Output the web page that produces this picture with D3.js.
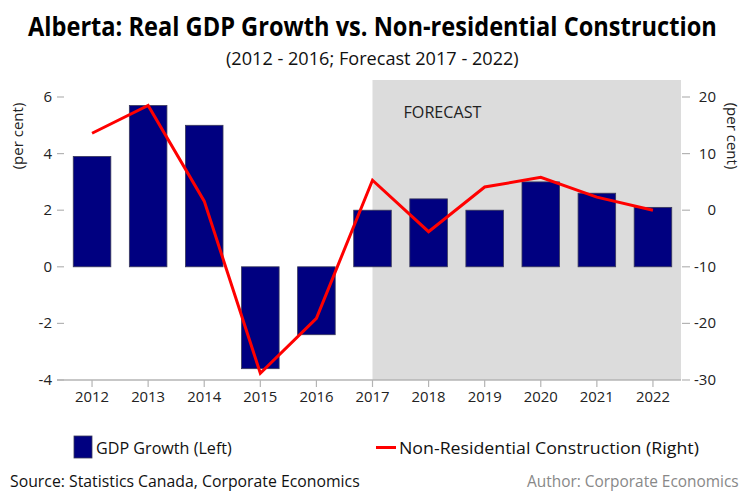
<!DOCTYPE html>
<html>
<head>
<meta charset="utf-8">
<script src="https://cdn.jsdelivr.net/npm/d3@7"></script>
<style>
  html, body { margin: 0; padding: 0; background: #fff; }
  svg { display: block; font-family: "Open Sans", "Noto Sans", sans-serif; }
</style>
</head>
<body>
<svg id="chart" width="742" height="491"></svg>
<script>
// Years shown on the category axis
const years = ["2012","2013","2014","2015","2016","2017","2018","2019","2020","2021","2022"];
// Real GDP growth, per cent (left axis)
const gdpGrowth = [3.9, 5.7, 5.0, -3.6, -2.4, 2.0, 2.4, 2.0, 3.0, 2.6, 2.1];
// Non-residential construction growth, per cent (right axis)
const nonResConstruction = [13.6, 18.5, 1.6, -28.8, -19.1, 5.3, -3.8, 4.1, 5.8, 2.3, 0.0];
// Axis tick values
const leftTicks = [-4, -2, 0, 2, 4, 6];
const rightTicks = [-30, -20, -10, 0, 10, 20];
// First forecast year
const forecastStart = "2017";

const svg = d3.select("#chart");
const plot = { left: 64, right: 681, top: 97, bottom: 380 };

const x = d3.scaleBand().domain(years).range([plot.left, plot.right]).paddingInner(0.33).paddingOuter(0.165);
const xc = d => x(d) + x.bandwidth() / 2;
const yL = d3.scaleLinear().domain([-4, 6]).range([plot.bottom, plot.top]);
const yR = d3.scaleLinear().domain([-30, 20]).range([plot.bottom, plot.top]);

// Places a text at (x0, y0) and squeezes it horizontally to the given width
function fitText(str, x0, y0, width, attrs) {
  const t = svg.append("text").attr("x", 0).attr("y", 0).text(str);
  Object.entries(attrs).forEach(([k, v]) => t.attr(k, v));
  const natural = t.node().getComputedTextLength();
  const sx = natural > 0 ? width / natural : 1;
  t.attr("transform", `translate(${x0},${y0}) scale(${sx},1)`);
  return t;
}

// Forecast shading
svg.append("rect")
  .attr("x", xc(forecastStart)).attr("y", 80)
  .attr("width", plot.right - xc(forecastStart)).attr("height", plot.bottom - 80)
  .attr("fill", "#dcdcdc");

fitText("FORECAST", xc(forecastStart) + 31, 118, 78, { "font-size": 16, fill: "#222" });

// Title and subtitle
fitText("Alberta: Real GDP Growth vs. Non-residential Construction", 28, 36, 689,
  { "font-size": 26, "font-weight": 700, fill: "#000" });
fitText("(2012 - 2016; Forecast 2017 - 2022)", 226, 65, 293, { "font-size": 18, fill: "#111" });

// GDP bars
svg.append("g").selectAll("rect").data(years).join("rect")
  .attr("x", d => x(d))
  .attr("width", x.bandwidth())
  .attr("y", (d, i) => Math.min(yL(gdpGrowth[i]), yL(0)))
  .attr("height", (d, i) => Math.abs(yL(gdpGrowth[i]) - yL(0)))
  .attr("fill", "#000080")
  .attr("stroke", "#3a3a5a").attr("stroke-width", 0.8);

// Bottom axis
const axisColor = "#b4b4b4";
svg.append("line")
  .attr("x1", 57).attr("x2", plot.right)
  .attr("y1", plot.bottom).attr("y2", plot.bottom)
  .attr("stroke", axisColor).attr("stroke-width", 1.5);

const xAxis = svg.append("g");
xAxis.selectAll("line").data(years).join("line")
  .attr("x1", d => xc(d)).attr("x2", d => xc(d))
  .attr("y1", plot.bottom).attr("y2", plot.bottom + 7)
  .attr("stroke", axisColor).attr("stroke-width", 1.2);
xAxis.selectAll("text").data(years).join("text")
  .attr("x", d => xc(d)).attr("y", 402)
  .attr("text-anchor", "middle").attr("font-size", 15).attr("fill", "#222")
  .attr("textLength", 34).attr("lengthAdjust", "spacingAndGlyphs")
  .text(d => d);

// Left axis
const lAxis = svg.append("g");
lAxis.selectAll("line").data(leftTicks).join("line")
  .attr("x1", 57).attr("x2", 64)
  .attr("y1", d => yL(d)).attr("y2", d => yL(d))
  .attr("stroke", axisColor).attr("stroke-width", 1.2);
lAxis.selectAll("text").data(leftTicks).join("text")
  .attr("x", 52).attr("y", d => yL(d) + 5)
  .attr("text-anchor", "end").attr("font-size", 15).attr("fill", "#222")
  .text(d => d);

// Right axis
const rAxis = svg.append("g");
rAxis.selectAll("line").data(rightTicks).join("line")
  .attr("x1", 682).attr("x2", 690)
  .attr("y1", d => yR(d)).attr("y2", d => yR(d))
  .attr("stroke", axisColor).attr("stroke-width", 1.2);
rAxis.selectAll("text").data(rightTicks).join("text")
  .attr("x", 716).attr("y", d => yR(d) + 5)
  .attr("text-anchor", "end").attr("font-size", 15).attr("fill", "#222")
  .text(d => d);

// Axis titles
svg.append("text")
  .attr("transform", "translate(23,136) rotate(-90)")
  .attr("text-anchor", "middle").attr("font-size", 15).attr("fill", "#222")
  .text("(per cent)");
svg.append("text")
  .attr("transform", "translate(727,136) rotate(90)")
  .attr("text-anchor", "middle").attr("font-size", 15).attr("fill", "#222")
  .text("(per cent)");

// Construction line
const line = d3.line().x((d, i) => xc(years[i])).y(d => yR(d));
svg.append("path")
  .datum(nonResConstruction)
  .attr("d", line)
  .attr("fill", "none").attr("stroke", "#ff0000").attr("stroke-width", 3);

// Legend
svg.append("rect")
  .attr("x", 74).attr("y", 436).attr("width", 18).attr("height", 22)
  .attr("fill", "#000080").attr("stroke", "#3a3a5a").attr("stroke-width", 0.8);
fitText("GDP Growth (Left)", 96, 454, 136, { "font-size": 17, fill: "#111" });
svg.append("line")
  .attr("x1", 376).attr("x2", 396).attr("y1", 447.5).attr("y2", 447.5)
  .attr("stroke", "#ff0000").attr("stroke-width", 3);
fitText("Non-Residential Construction (Right)", 399, 454, 300, { "font-size": 17, fill: "#111" });

// Footer
fitText("Source: Statistics Canada, Corporate Economics", 10, 487, 350, { "font-size": 17, fill: "#111" });
fitText("Author: Corporate Economics", 527, 487, 212, { "font-size": 17, fill: "#888" });
</script>
</body>
</html>
